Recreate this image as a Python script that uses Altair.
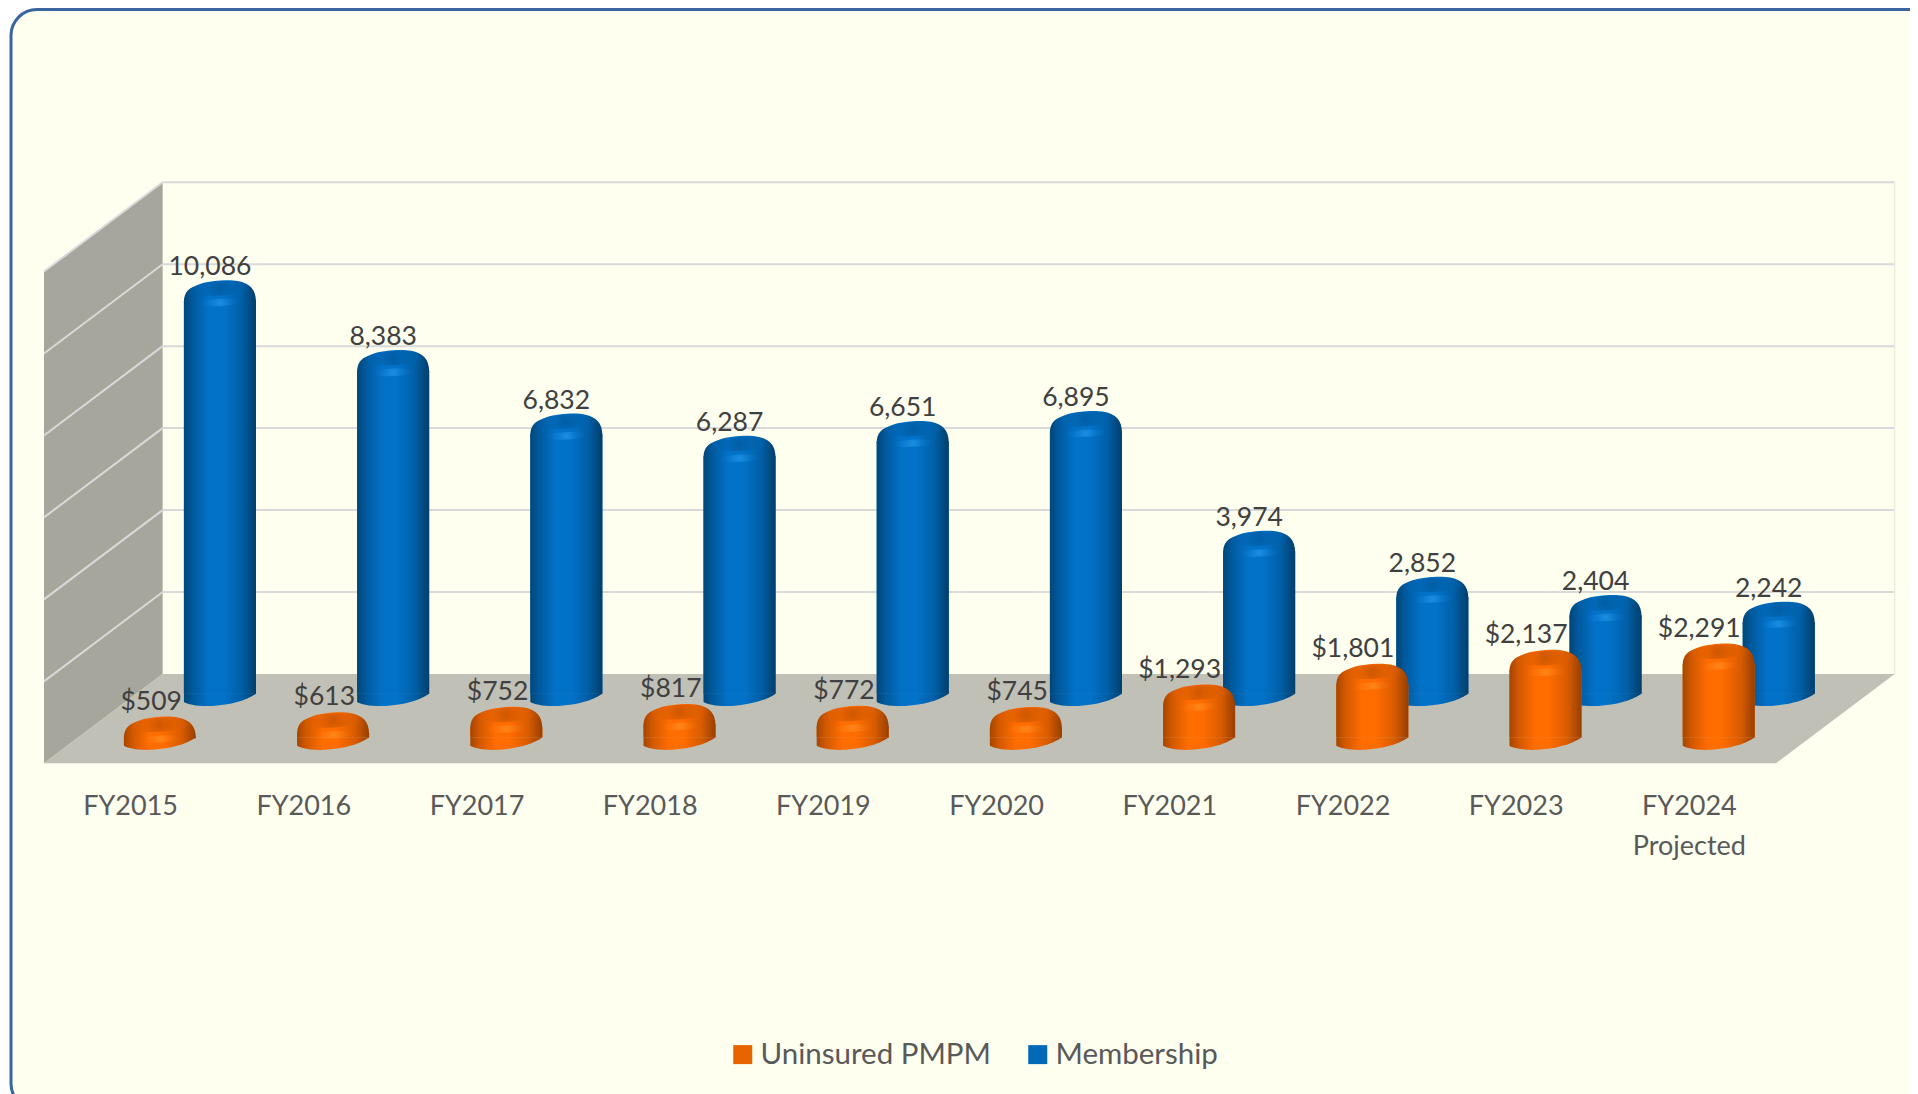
import altair as alt
import pandas as pd

# ---- values
categories = ["FY2015", "FY2016", "FY2017", "FY2018", "FY2019",
              "FY2020", "FY2021", "FY2022", "FY2023", "FY2024"]
category_lines = [["FY2015"], ["FY2016"], ["FY2017"], ["FY2018"], ["FY2019"],
                  ["FY2020"], ["FY2021"], ["FY2022"], ["FY2023"], ["FY2024", "Projected"]]
uninsured_pmpm = [509, 613, 752, 817, 772, 745, 1293, 1801, 2137, 2291]
membership = [10086, 8383, 6832, 6287, 6651, 6895, 3974, 2852, 2404, 2242]
wall_ticks = [0, 2000, 4000, 6000, 8000, 10000, 12000]
series_names = ["Uninsured PMPM", "Membership"]

# ---- projection of the 3-D box onto the two scales
CAT_PX = 173.2            # pixels per category
VAL_PX = 0.04098          # pixels per value unit
DEPTH_X = 0.685           # horizontal shift of full depth, in categories
DEPTH_V = 2179            # vertical shift of full depth, in value units
HALF_W = 0.208            # half a cylinder width, in categories
CAP_V = 500               # height of the rounded cap, in value units
N = len(categories)
TOP = wall_ticks[-1]

PLOT_W, PLOT_H = 1930, 1100
x_scale = alt.Scale(domain=[-33 / CAT_PX, (PLOT_W - 33) / CAT_PX], nice=False, zero=False)
y_scale = alt.Scale(domain=[(664.5 - PLOT_H) / VAL_PX, 664.5 / VAL_PX], nice=False, zero=False)
X = lambda f: alt.X(f"{f}:Q", scale=x_scale, axis=None)
Y = lambda f: alt.Y(f"{f}:Q", scale=y_scale, axis=None)

FONT = "Lato"
TEXT = "#595959"


def series_frame(name, values, depth_x, depth_y):
    base = -(1 - depth_y) * DEPTH_V
    rows = []
    for i, v in enumerate(values):
        c = i + 0.5 + DEPTH_X * depth_x
        rows.append({"cat": categories[i], "series": name, "value": v,
                     "c": c, "x0": c - HALF_W, "x1": c + HALF_W,
                     "base": base, "top": base + v,
                     "body": max(base, base + v - CAP_V)})
    return pd.DataFrame(rows)


orange = series_frame(series_names[0], uninsured_pmpm, 0.247, 0.288)
blue = series_frame(series_names[1], membership, 0.753, 0.78)


def h_grad(stops):
    n = [alt.GradientStop(color=c, offset=o) for o, c in stops]
    return alt.LinearGradient(gradient="linear", stops=n, x1=0, x2=1, y1=0, y2=0)


def radial(inner, outer_alpha_color, r2=0.5):
    return alt.RadialGradient(
        gradient="radial", x1=0.5, y1=0.5, r1=0, x2=0.5, y2=0.5, r2=r2,
        stops=[alt.GradientStop(color=inner, offset=0),
               alt.GradientStop(color=outer_alpha_color, offset=1)])


SIZE = (2 * HALF_W * CAT_PX) ** 2
DOME = ("M-1,0.6 C-1,0.32 -0.86,0.2 -0.55,0.1 C-0.25,0.0 0.25,-0.03 0.5,0.02 "
        "C0.82,0.08 1,0.25 1,0.6 Z")
BASE = "M-1,0 L1,0 C0.7,0.2 0.3,0.3 -0.2,0.34 C-0.6,0.36 -0.9,0.3 -1,0.23 Z"
LID = "M-0.8,0.3 C-0.7,0.08 -0.2,0.02 0.15,0.02 C0.55,0.03 0.85,0.12 0.78,0.24 C0.65,0.42 -0.72,0.52 -0.8,0.3 Z"
SHINE = "M-0.6,0.0 C-0.5,-0.12 0.5,-0.18 0.6,-0.06 C0.65,0.08 -0.65,0.16 -0.6,0.0 Z"


def cylinder(df, stops, lid, shine):
    g = h_grad(stops)
    src = alt.Chart(df)
    solid = src.mark_rect(stroke=None).encode(
        x=X("x0"), x2="x1", y=Y("body"), y2="base",
        color=alt.Color("series:N",
                        scale=alt.Scale(domain=series_names, range=["#E86400", "#0268B8"]),
                        sort=series_names,
                        legend=alt.Legend(title=None, orient="none", legendX=717, legendY=1030,
                                          direction="horizontal", columns=2, symbolType="square",
                                          symbolSize=361, symbolStrokeWidth=0, columnPadding=32,
                                          labelFont=FONT, labelFontSize=29.5, labelColor=TEXT,
                                          labelLimit=400, labelOffset=3, symbolOpacity=1)))
    body = src.mark_rect(fill=g, stroke=None).encode(
        x=X("x0"), x2="x1", y=Y("body"), y2="base")
    bottom = src.mark_point(shape=BASE, size=SIZE, filled=True, fill=g, opacity=1, strokeWidth=0).encode(
        x=X("c"), y=Y("base"))
    dome = src.mark_point(shape=DOME, size=SIZE, filled=True, fill=g, opacity=1, strokeWidth=0).encode(
        x=X("c"), y=Y("top"))
    lid_mark = src.mark_point(shape=LID, size=SIZE, filled=True, fill=radial(lid[0], lid[1], 0.55),
                              opacity=1, strokeWidth=0).encode(x=X("c"), y=Y("top"))
    shine_df = df.assign(shine=df["top"] - 560)
    shine_mark = alt.Chart(shine_df).mark_point(shape=SHINE, size=SIZE, filled=True,
                                                fill=radial(shine[0], shine[1]),
                                                opacity=1, strokeWidth=0).encode(
        x=X("c"), y=Y("shine"))
    return [solid, body, bottom, dome, lid_mark, shine_mark]


# ---- walls and floor of the box
side = pd.DataFrame({"x": [0, DEPTH_X],
                     "y": [TOP - DEPTH_V, TOP],
                     "y2": [-DEPTH_V, 0]})
floor = pd.DataFrame({"x": [0, DEPTH_X, N, N + DEPTH_X],
                      "y": [-DEPTH_V, 0, 0, 0],
                      "y2": [-DEPTH_V, -DEPTH_V, -DEPTH_V, 0]})
side_wall = alt.Chart(side).mark_area(color="#A6A69D", interpolate="linear").encode(
    x=X("x"), y=Y("y"), y2="y2")
floor_area = alt.Chart(floor).mark_area(color="#C0C0B7", interpolate="linear").encode(
    x=X("x"), y=Y("y"), y2="y2")

grid = pd.DataFrame({"v": wall_ticks})
grid["x0"] = DEPTH_X
grid["x1"] = N + DEPTH_X
grid["fx"] = 0.0
grid["fv"] = grid["v"] - DEPTH_V
back_grid = alt.Chart(grid[grid["v"] > 0]).mark_rule(color="#D9D9D9", strokeWidth=2).encode(
    x=X("x0"), x2="x1", y=Y("v"))
side_grid = alt.Chart(grid[grid["v"] > 0]).mark_rule(color="#D9D9D9", strokeWidth=2).encode(
    x=X("fx"), x2="x0", y=Y("fv"), y2="v")
right_edge = alt.Chart(pd.DataFrame({"x": [N + DEPTH_X], "y": [0], "y2": [TOP]})).mark_rule(
    color="#ECECE2", strokeWidth=1.5).encode(x=X("x"), y=Y("y"), y2="y2")

# ---- texts
label_blue = alt.Chart(blue).mark_text(font=FONT, fontSize=26.5, color="#404040", align="center",
                                       baseline="middle", dx=-10, dy=-13).encode(
    x=X("c"), y=Y("top"), text=alt.Text("value:Q", format=",.0f"))
label_orange = alt.Chart(orange).mark_text(font=FONT, fontSize=26.5, color="#404040", align="right",
                                           baseline="middle", dx=22, dy=-15).encode(
    x=X("c"), y=Y("top"), text=alt.Text("value:Q", format="$,.0f"))

cat_df = pd.DataFrame({"c": [i + 0.5 for i in range(N)],
                       "lines": category_lines, "y": [-3250] * N})
cat_labels = alt.Chart(cat_df).mark_text(font=FONT, fontSize=27, color=TEXT, align="center",
                                         baseline="middle", lineHeight=40).encode(
    x=X("c"), y=Y("y"), text="lines:N")

chart = alt.layer(
    side_wall, floor_area, back_grid, side_grid, right_edge,
    *cylinder(blue,
              [(0, "#014678"), (0.12, "#01599C"), (0.35, "#0272C9"), (0.55, "#0272C9"),
               (0.8, "#015FA6"), (1, "#013E6B")],
              ("#015A9EE0", "#0268B800"), ("#2FA4F590", "#0272C900")),
    *cylinder(orange,
              [(0, "#A44600"), (0.12, "#D05800"), (0.35, "#FF6C00"), (0.55, "#FF6C00"),
               (0.8, "#D95C00"), (1, "#983F00")],
              ("#C65400E0", "#E8640000"), ("#FF9A2E90", "#FF6C0000")),
    label_blue, label_orange, cat_labels,
).resolve_scale(color="shared").properties(
    width=PLOT_W, height=PLOT_H,
    autosize=alt.AutoSizeParams(type="none", contains="content"),
    padding={"left": 3, "top": 1.5, "right": -31, "bottom": -15.5},
    background="#FFFFFF",
).configure_view(fill="#FEFFEF", stroke="#3A659E", strokeWidth=3, cornerRadius=26)

chart.save("out.html", embed_options={"renderer": "svg", "actions": False})
